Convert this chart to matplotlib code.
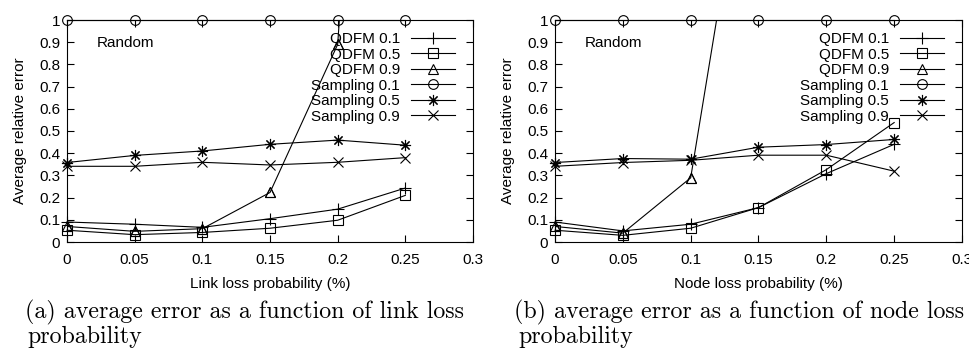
import numpy as np
import matplotlib
matplotlib.use("Agg")
import matplotlib.pyplot as plt

plt.rcParams["font.family"] = ["Liberation Sans", "DejaVu Sans"]

loss = [0, 0.05, 0.1, 0.15, 0.2, 0.25]
labels = ["QDFM 0.1", "QDFM 0.5", "QDFM 0.9", "Sampling 0.1", "Sampling 0.5", "Sampling 0.9"]
markers = ["+", "s", "^", "o", (8, 2, 0), "x"]
msizes = [9, 6.5, 6.5, 7, 8, 7]

# (a) link loss
link_qdfm01 = [0.09, 0.08, 0.066, 0.105, 0.148, 0.243]
link_qdfm05 = [0.053, 0.033, 0.043, 0.062, 0.098, 0.21]
link_qdfm09 = [0.07, 0.048, 0.06, 0.223, 0.89, 5.3]
link_samp01 = [1.0, 1.0, 1.0, 1.0, 1.0, 1.0]
link_samp05 = [0.358, 0.39, 0.41, 0.44, 0.459, 0.436]
link_samp09 = [0.341, 0.341, 0.359, 0.347, 0.359, 0.38]

# (b) node loss
node_qdfm01 = [0.09, 0.05, 0.08, 0.155, 0.308, 0.44]
node_qdfm05 = [0.053, 0.03, 0.062, 0.155, 0.326, 0.538]
node_qdfm09 = [0.07, 0.04, 0.289, 2.15, np.nan, np.nan]
node_samp01 = [1.0, 1.0, 1.0, 1.0, 1.0, 1.0]
node_samp05 = [0.358, 0.376, 0.373, 0.427, 0.439, 0.462]
node_samp09 = [0.341, 0.358, 0.368, 0.391, 0.391, 0.319]

panels = [
    ("Link loss probability (%)",
     [link_qdfm01, link_qdfm05, link_qdfm09, link_samp01, link_samp05, link_samp09]),
    ("Node loss probability (%)",
     [node_qdfm01, node_qdfm05, node_qdfm09, node_samp01, node_samp05, node_samp09]),
]

fig = plt.figure(figsize=(9.7, 3.49), dpi=100)
axes = [
    fig.add_axes([67 / 970, 1 - 242 / 349, 406 / 970, 222 / 349]),
    fig.add_axes([555 / 970, 1 - 242 / 349, 407 / 970, 222 / 349]),
]

fs = 11
for ax, (xlabel, series) in zip(axes, panels):
    for y, lab, m, ms in zip(series, labels, markers, msizes):
        y = np.array(y, dtype=float)
        over = np.nanmax(y) > 1.0
        ax.plot(loss, y, color="black", lw=0.8, marker=m, ms=ms, mfc="none",
                mew=0.8, label=lab, clip_on=over)
        if over:
            # keep in-range markers whole at the axes edge
            keep = y <= 1.0
            ax.plot(np.array(loss)[keep], y[keep], ls="none", color="black",
                    marker=m, ms=ms, mfc="none", mew=0.8, clip_on=False)

    ax.set_xlim(0, 0.3)
    ax.set_ylim(0, 1)
    ax.set_xticks(np.arange(0, 0.31, 0.05))
    ax.set_yticks(np.arange(0, 1.01, 0.1))
    ax.set_xticklabels([f"{v:g}" for v in np.arange(0, 0.31, 0.05).round(2)])
    ax.set_yticklabels([f"{v:g}" for v in np.arange(0, 1.01, 0.1).round(1)])
    ax.tick_params(direction="in", length=5, width=0.8, top=True, right=True,
                   labelsize=fs)
    ax.tick_params(axis="x", pad=8)
    ax.tick_params(axis="y", pad=5)
    for s in ax.spines.values():
        s.set_linewidth(0.8)

    ax.set_xlabel(xlabel, fontsize=fs, labelpad=7)
    ax.set_ylabel("Average relative error", fontsize=fs)
    ax.yaxis.set_label_coords(-0.098, 0.5)

    ax.text(0.022, 0.898, "Random", fontsize=fs, ha="left", va="center")

    ax.legend(loc="upper right", bbox_to_anchor=(0.956, 0.946), markerfirst=False,
              frameon=False, fontsize=fs, handlelength=2.9, handletextpad=0.7,
              labelspacing=0.1, borderpad=0, borderaxespad=0)

cap = dict(family="cmr10", fontsize=17.2, ha="left", va="center")
fig.text(25 / 970, 1 - 312 / 349, "(a) average error as a function of link loss", **cap)
fig.text(27 / 970, 1 - 337 / 349, "probability", **cap)
fig.text(514 / 970, 1 - 312 / 349, "(b) average error as a function of node loss", **cap)
fig.text(518 / 970, 1 - 337 / 349, "probability", **cap)

fig.savefig("out.png", dpi=100)
